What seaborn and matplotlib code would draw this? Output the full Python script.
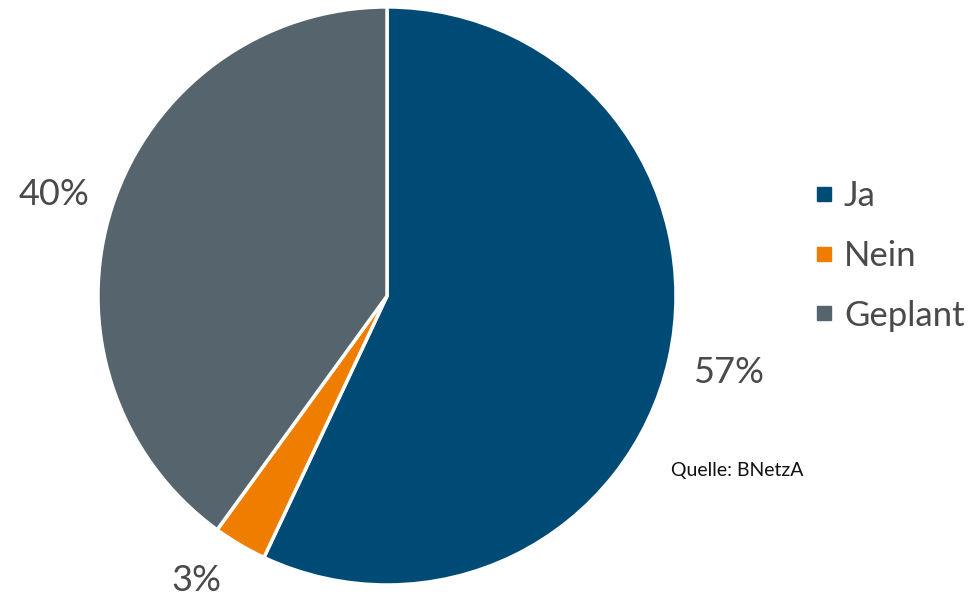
import matplotlib
matplotlib.use("Agg")
import matplotlib.pyplot as plt
import matplotlib.transforms as mtransforms
from matplotlib.lines import Line2D
import seaborn as sns

# Antworten und Anteile in Prozent
categories = ["Ja", "Nein", "Geplant"]
shares = [57, 3, 40]
colors = ["#004B76", "#EF7D00", "#56646D"]
source_note = "Quelle: BNetzA"

sns.set_theme(style="white")
plt.rcParams["font.family"] = ["Lato", "DejaVu Sans"]

fig = plt.figure(figsize=(9.72, 5.99), dpi=100)
ax = fig.add_axes([0.1008, 0.0234, 0.5947, 0.965])

wedges, texts = ax.pie(
    shares,
    labels=[f"{v}%" for v in shares],
    colors=colors,
    startangle=90,
    counterclock=False,
    labeldistance=1.21,
    wedgeprops=dict(edgecolor="white", linewidth=2.5),
    textprops=dict(fontsize=26, color="#4A4A4A"),
)
# small nudges (in points) so the labels sit clear of the figure edges
label_nudges = [(0, 0), (-9, 12), (0, -5)]
for t, (dx, dy) in zip(texts, label_nudges):
    t.set_ha("center")
    t.set_va("center")
    t.set_clip_on(False)
    t.set_transform(t.get_transform() + mtransforms.ScaledTranslation(
        dx / 72, dy / 72, fig.dpi_scale_trans))
ax.set_xlim(-1, 1)
ax.set_ylim(-1, 1)
ax.set_aspect("equal")

handles = [
    Line2D([], [], marker="s", linestyle="none", markersize=10,
           markerfacecolor=c, markeredgecolor=c)
    for c in colors
]
leg = fig.legend(
    handles, categories,
    loc="center left", bbox_to_anchor=(0.8176, 0.573),
    frameon=False, fontsize=25, handlelength=0.7, handletextpad=0.22,
    labelspacing=0.8, borderpad=0,
)
for t in leg.get_texts():
    t.set_color("#4A4A4A")

fig.text(0.759, 0.215, source_note, fontsize=14, color="#111111",
         ha="center", va="center")

fig.savefig("out.png", dpi=100)
